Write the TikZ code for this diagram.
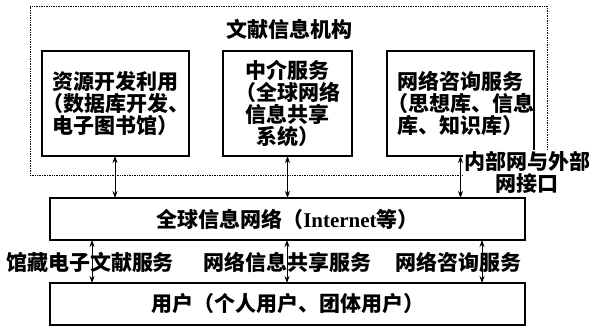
\documentclass[tikz,border=0pt]{standalone}
\usepackage{fontspec}
\setmainfont{Noto Sans CJK SC}
\newfontfamily\lat{Liberation Serif}
\usetikzlibrary{arrows.meta}
\begin{document}
\begin{tikzpicture}[x=1pt,y=-1pt,
  every node/.style={inner sep=0pt,outer sep=0pt,font=\fontsize{21pt}{22pt}\selectfont\bfseries},
  box/.style={draw,line width=1.6pt,align=center},
  conn/.style={line width=0.8pt,{Stealth[length=7pt,width=5pt]}-{Stealth[length=7pt,width=5pt]}},
  lbl/.style={align=center}]
\useasboundingbox (0,0) rectangle (589,326);
\node[draw,densely dotted,line width=0.7pt,minimum width=517pt,minimum height=169pt] (org) at (288.5,90.5) {};
\node (title) at (289.5,29) {文献信息机构};
\node[box,minimum width=129pt,minimum height=105pt] (b1) at (115.5,103.5) {资源开发利用\\（数据库开发、\\电子图书馆）};
\node[box,minimum width=129pt,minimum height=105pt] (b2) at (287.5,103.5) {中介服务\\（全球网络\\信息共享\\系统）};
\node[box,minimum width=129pt,minimum height=105pt] (b3) at (460.5,103.5) {网络咨询服务\\（思想库、信息\\库、知识库）};
\node[box,minimum width=475pt,minimum height=42pt] (net) at (287.5,219) {全球信息网络（{\lat Internet}等）};
\node[box,minimum width=475pt,minimum height=42pt] (user) at (287.5,304) {用户（个人用户、团体用户）};
\node[lbl,fill=white,inner sep=1pt] (intf) at (527,172.5) {内部网与外部\\网接口};
\node[lbl] (l1) at (90,262) {馆藏电子文献服务};
\node[lbl] (l2) at (287,262) {网络信息共享服务};
\node[lbl] (l3) at (458,262) {网络咨询服务};
\coordinate (c1) at (92,0);
\coordinate (c2) at (287,0);
\coordinate (c3) at (482,0);
\draw[conn] (b1.south -| 115,0) -- (net.north -| 115,0);
\draw[conn] (b2.south) -- (net.north -| b2.south);
\draw[conn] (b3.south) -- (net.north -| b3.south);
\draw[conn] (net.south -| c1) -- (user.north -| c1);
\draw[conn] (net.south -| c2) -- (user.north -| c2);
\draw[conn] (net.south -| c3) -- (user.north -| c3);
\end{tikzpicture}
\end{document}
